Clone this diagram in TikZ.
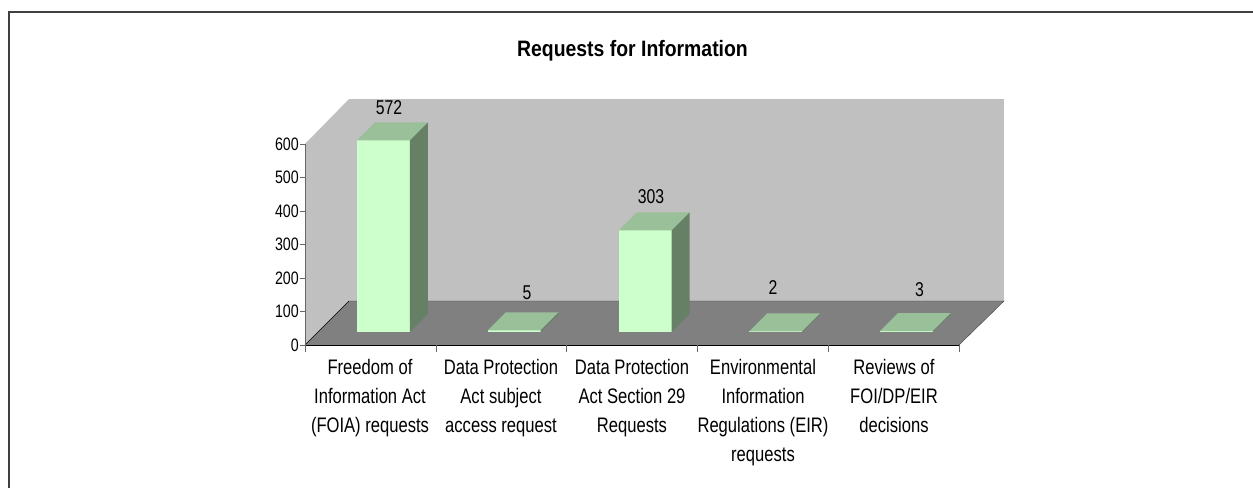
\documentclass[tikz,border=0pt]{standalone}
\usepackage{fontspec}
\setmainfont[FakeStretch=0.79]{Liberation Sans}
\newfontfamily\titlefont[FakeStretch=0.87]{Liberation Sans}
\usetikzlibrary{positioning}

\definecolor{wallgray}{RGB}{192,192,192}
\definecolor{floorgray}{RGB}{128,128,128}
\definecolor{barfront}{RGB}{204,255,204}
\definecolor{bartop}{RGB}{153,192,153}
\definecolor{barside}{RGB}{102,128,102}

\begin{document}
\begin{tikzpicture}[x=1pt, y=-1pt,
    catlabel/.style={align=center, anchor=north, inner sep=0pt, font=\fontsize{21}{29}\selectfont},
    vallabel/.style={inner sep=0pt, font=\fontsize{20}{24}\selectfont},
    ticklabel/.style={anchor=east, inner sep=0pt, font=\fontsize{18}{20}\selectfont}]

    \useasboundingbox (0,0) rectangle (1253,488);
    % frame
    \draw[line width=2pt, black!75] (1253,12) -- (9,12) -- (9,488);

    \node[anchor=base, inner sep=0pt, font=\titlefont\bfseries\fontsize{22.3}{26}\selectfont] (title) at (632.5,56) {Requests for Information};

    % walls and floor
    \fill[wallgray] (305,345) -- (305,144) -- (349,99) -- (349,301) -- cycle;
    \fill[wallgray] (349,99) rectangle (1004,301);
    \fill[floorgray] (305,345) -- (349,301) -- (1004,301) -- (959,345) -- cycle;
    \draw[black!75] (349,301) -- (1004,301) -- (959,345);
    \draw (305,345) -- (349,301);

    % axes
    \draw[black!60] (305,144) -- (305,345);
    \foreach \v/\t in {0/0,1/100,2/200,3/300,4/400,5/500,6/600} {
        \draw[black!60] (300,345-33.5*\v) -- (305,345-33.5*\v);
        \node[ticklabel] (tick\v) at (299,345-33.5*\v) {\t};
    }
    \draw (305,345) -- (959,345);
    \foreach \i in {0,...,5}
        \draw[black!60] (305+130.8*\i,345) -- (305+130.8*\i,352);

    % bars
    \foreach \i/\v in {1/572,2/5,3/303,4/2,5/3} {
        \pgfmathsetmacro\xl{305+130.8*(\i-0.5)+13-26.5}
        \pgfmathsetmacro\yt{332-0.335*\v}
        \fill[barfront] (\xl,332) rectangle (\xl+53,\yt);
        \fill[bartop] (\xl,\yt) -- (\xl+18,\yt-18) -- (\xl+71,\yt-18) -- (\xl+53,\yt) -- cycle;
        \fill[barside] (\xl+53,332) -- (\xl+53,\yt) -- (\xl+71,\yt-18) -- (\xl+71,314) -- cycle;
    }

    \node[vallabel] (val1) at (389,108) {572};
    \node[vallabel] (val2) at (527,293) {5};
    \node[vallabel] (val3) at (651,197) {303};
    \node[vallabel] (val4) at (773,288) {2};
    \node[vallabel] (val5) at (919.5,290) {3};

    \node[catlabel] (cat1) at (370,359) {Freedom of\\Information Act\\(FOIA) requests};
    \node[catlabel] (cat2) at (501,359) {Data Protection\\Act subject\\access request};
    \node[catlabel] (cat3) at (632,359) {Data Protection\\Act Section 29\\Requests};
    \node[catlabel] (cat4) at (763,359) {Environmental\\Information\\Regulations (EIR)\\requests};
    \node[catlabel] (cat5) at (894,359) {Reviews of\\FOI/DP/EIR\\decisions};
\end{tikzpicture}
\end{document}
